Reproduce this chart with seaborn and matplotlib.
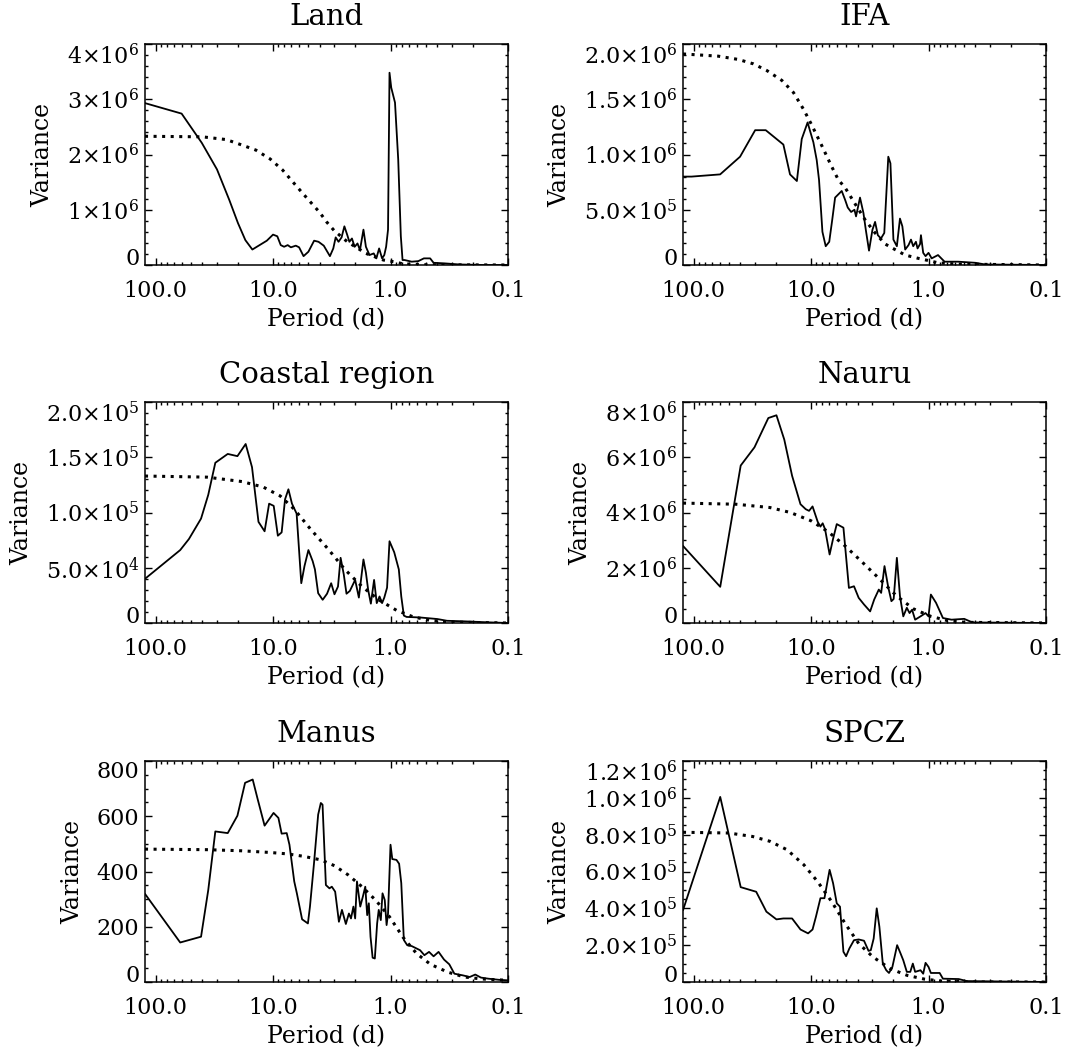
import matplotlib
matplotlib.use("Agg")
import matplotlib.pyplot as plt
import numpy as np
import seaborn as sns
from matplotlib.ticker import LogLocator, NullFormatter, MultipleLocator

sns.set_style("ticks")
plt.rcParams["font.family"] = ["DejaVu Serif"]
plt.rcParams["mathtext.fontset"] = "dejavuserif"
plt.rcParams["text.color"] = "black"
plt.rcParams["axes.labelcolor"] = "black"

# ---- Land ----
land_period = [123, 60, 40.4, 30, 23.6, 19.9, 17.2, 15.0, 11.3, 10.0, 9.2, 8.6, 8.05, 7.5, 7.05,
               6.4, 6.0, 5.5, 5.0, 4.47, 4.1, 3.7, 3.28, 3.07, 2.93, 2.77, 2.61, 2.47, 2.34, 2.24,
               2.13, 2.02, 1.91, 1.82, 1.70, 1.62, 1.51, 1.39, 1.32, 1.25, 1.18, 1.13, 1.09, 1.05,
               1.02, 0.986, 0.916, 0.86, 0.817, 0.79, 0.76, 0.66, 0.58, 0.52, 0.46, 0.43, 0.35,
               0.26, 0.165, 0.1]
land_var = np.array([2.93, 2.74, 2.21, 1.73, 1.18, 0.76, 0.45, 0.28, 0.44, 0.55, 0.52, 0.36, 0.33,
                     0.36, 0.32, 0.35, 0.32, 0.16, 0.24, 0.44, 0.42, 0.35, 0.16, 0.30, 0.50, 0.42,
                     0.50, 0.70, 0.55, 0.42, 0.48, 0.33, 0.39, 0.27, 0.64, 0.33, 0.18, 0.21, 0.12,
                     0.30, 0.12, 0.18, 0.33, 0.64, 3.48, 3.21, 2.94, 1.91, 0.52, 0.09, 0.09, 0.06,
                     0.07, 0.12, 0.12, 0.04, 0.03, 0.01, 0.0, 0.0]) * 1e6
land_fit_period = [123, 40, 25, 18.9, 14, 10.6, 8.3, 6.7, 5.5, 4.58, 4.0, 3.5, 3.01, 2.33, 1.62,
                   1.15, 0.94, 0.78, 0.5, 0.1]
land_fit = np.array([2.33, 2.32, 2.27, 2.18, 2.08, 1.92, 1.72, 1.49, 1.28, 1.09, 0.95, 0.78, 0.62,
                     0.42, 0.21, 0.09, 0.06, 0.02, 0.005, 0.0]) * 1e6

# ---- IFA ----
ifa_period = [123, 104, 59.4, 40.2, 29.9, 24.3, 17.2, 15.1, 13.2, 12.0, 10.7, 9.55, 8.95, 8.55,
              8.0, 7.5, 7.0, 6.6, 6.24, 5.85, 5.48, 5.13, 4.87, 4.56, 4.27, 4.14, 3.83, 3.58,
              3.42, 3.21, 3.0, 2.85, 2.70, 2.54, 2.38, 2.20, 2.11, 1.99, 1.86, 1.75, 1.67, 1.58,
              1.48, 1.41, 1.35, 1.28, 1.24, 1.18, 1.16, 1.11, 1.06, 1.0, 0.94, 0.83, 0.73, 0.56,
              0.40, 0.33, 0.1]
ifa_var = np.array([0.80, 0.80, 0.82, 0.98, 1.22, 1.22, 1.09, 0.82, 0.76, 1.14, 1.29, 1.11, 0.95,
                    0.77, 0.30, 0.17, 0.21, 0.41, 0.61, 0.64, 0.67, 0.59, 0.52, 0.48, 0.50, 0.44,
                    0.61, 0.47, 0.32, 0.13, 0.32, 0.39, 0.27, 0.24, 0.29, 0.98, 0.92, 0.23, 0.17,
                    0.42, 0.35, 0.14, 0.18, 0.23, 0.17, 0.21, 0.15, 0.19, 0.27, 0.11, 0.08, 0.11,
                    0.06, 0.09, 0.03, 0.03, 0.02, 0.005, 0.0]) * 1e6
ifa_fit_period = [123, 61.7, 41.5, 30.9, 23.8, 17.7, 14.1, 11.6, 9.9, 8.1, 6.67, 5.85, 5.13, 4.2,
                  3.47, 2.85, 2.34, 1.93, 1.58, 1.22, 1.0, 0.83, 0.56, 0.1]
ifa_fit = np.array([1.91, 1.89, 1.86, 1.82, 1.76, 1.67, 1.56, 1.41, 1.27, 1.08, 0.89, 0.77, 0.70,
                    0.55, 0.41, 0.29, 0.19, 0.14, 0.09, 0.06, 0.04, 0.02, 0.008, 0.0]) * 1e6

# ---- Coastal region ----
coast_period = [123, 61.7, 52, 41, 35.6, 31, 24.3, 20.1, 17.1, 15.1, 13.3, 11.8, 10.8, 9.87,
                9.1, 8.45, 7.9, 7.4, 6.9, 6.3, 5.75, 5.4, 5.0, 4.6, 4.4, 4.13, 3.78, 3.47, 3.2,
                3.0, 2.8, 2.66, 2.5, 2.37, 2.22, 2.0, 1.86, 1.70, 1.62, 1.55, 1.47, 1.38, 1.31,
                1.24, 1.18, 1.13, 1.07, 1.02, 0.93, 0.85, 0.81, 0.77, 0.73, 0.56, 0.40, 0.33,
                0.235, 0.147, 0.1]
coast_var = np.array([4.0, 6.6, 7.6, 9.45, 11.6, 14.5, 15.3, 15.1, 16.2, 14.1, 9.15, 8.3, 10.8,
                      10.6, 7.9, 8.2, 11.2, 12.1, 10.8, 9.9, 3.6, 5.15, 6.6, 5.6, 4.85, 2.7, 2.1,
                      2.65, 3.6, 2.6, 3.3, 5.9, 4.4, 2.65, 2.9, 3.9, 2.3, 5.75, 4.55, 3.0, 1.75,
                      3.9, 1.8, 2.4, 1.8, 2.3, 3.2, 7.4, 6.4, 4.85, 2.4, 0.67, 0.55, 0.5, 0.36,
                      0.2, 0.15, 0.06, 0.0]) * 1e4
coast_fit_period = [123, 36.5, 18.4, 12.1, 8.7, 6.6, 4.8, 3.4, 2.45, 1.75, 1.26, 0.89, 0.64, 0.46,
                    0.33, 0.1]
coast_fit = np.array([13.3, 13.2, 12.8, 12.3, 11.5, 10.3, 8.5, 6.7, 4.85, 3.3, 2.1, 1.15, 0.55,
                      0.24, 0.09, 0.0]) * 1e4

# ---- Nauru ----
nauru_period = [123, 59.3, 39.7, 30.3, 23.1, 19.7, 16.9, 14.5, 12.3, 11.1, 10.4, 9.71, 8.77, 8.32,
                7.96, 7.59, 6.95, 6.49, 6.04, 5.30, 4.76, 4.31, 3.93, 3.54, 3.14, 2.90, 2.65,
                2.53, 2.37, 2.21, 2.07, 1.98, 1.86, 1.75, 1.64, 1.53, 1.45, 1.38, 1.30, 1.17,
                1.06, 1.0, 0.955, 0.863, 0.754, 0.637, 0.497, 0.423, 0.1]
nauru_var = np.array([2.79, 1.31, 5.70, 6.36, 7.42, 7.52, 6.64, 5.33, 4.30, 4.12, 4.06, 4.22,
                      3.66, 3.49, 3.61, 3.39, 2.48, 3.05, 3.58, 3.45, 1.27, 1.33, 0.91, 0.67,
                      0.42, 0.85, 1.21, 1.09, 2.06, 1.33, 0.79, 0.87, 2.36, 0.97, 0.24, 0.55,
                      0.36, 0.48, 0.12, 0.24, 0.36, 0.24, 1.03, 0.73, 0.18, 0.12, 0.15, 0.02,
                      0.0]) * 1e6
nauru_fit_period = [123, 43.7, 22.4, 15.0, 10.0, 7.13, 5.13, 3.68, 2.62, 1.86, 1.34, 0.955, 0.686,
                    0.488, 0.1]
nauru_fit = np.array([4.34, 4.30, 4.18, 4.0, 3.70, 3.30, 2.79, 2.21, 1.60, 0.97, 0.51, 0.24,
                      0.085, 0.024, 0.0]) * 1e6

# ---- Manus ----
manus_period = [123, 61.7, 41, 35.6, 31, 24.3, 20.1, 17.3, 14.9, 13.5, 11.8, 10.6, 9.9, 9.0,
                8.45, 7.65, 7.25, 6.6, 6.27, 5.66, 5.05, 4.85, 4.48, 4.13, 3.92, 3.79, 3.55,
                3.31, 3.16, 2.96, 2.75, 2.59, 2.40, 2.26, 2.17, 2.07, 2.0, 1.93, 1.81, 1.72,
                1.64, 1.58, 1.53, 1.48, 1.42, 1.36, 1.30, 1.26, 1.21, 1.17, 1.12, 1.08, 1.05,
                1.0, 0.966, 0.89, 0.845, 0.81, 0.77, 0.72, 0.66, 0.56, 0.515, 0.47, 0.43, 0.39,
                0.35, 0.316, 0.286, 0.242, 0.212, 0.19, 0.17, 0.147, 0.12, 0.1]
manus_var = [319, 143, 164, 333, 545, 539, 602, 721, 733, 661, 566, 594, 612, 594, 537, 539, 497,
             364, 321, 227, 212, 273, 430, 606, 648, 642, 351, 339, 345, 327, 218, 261, 210, 248,
             230, 273, 230, 364, 273, 309, 345, 242, 285, 164, 88, 85, 212, 261, 224, 321, 297,
             206, 248, 497, 445, 442, 428, 358, 152, 133, 130, 115, 97, 109, 93, 109, 81, 64, 30,
             24, 18, 27, 16, 12, 8, 6]
manus_fit_period = [123, 36.5, 18.6, 10.7, 7.65, 5.5, 3.92, 3.0, 2.3, 1.75, 1.33, 1.02, 0.78, 0.6,
                    0.457, 0.327, 0.234, 0.168, 0.1]
manus_fit = [481, 479, 475, 469, 464, 455, 442, 421, 388, 345, 295, 236, 161, 103, 64, 36, 18,
             11, 6]

# ---- SPCZ ----
spcz_period = [123, 59.3, 39.7, 29.3, 24.0, 19.7, 17.2, 14.5, 12.3, 10.6, 9.71, 9.08, 8.32, 7.69,
               6.95, 6.49, 6.04, 5.67, 5.30, 5.03, 4.72, 4.31, 3.93, 3.54, 3.24, 3.10, 2.93, 2.76,
               2.62, 2.45, 2.29, 2.17, 2.03, 1.85, 1.73, 1.64, 1.53, 1.43, 1.36, 1.30, 1.17,
               1.11, 1.06, 1.0, 0.955, 0.804, 0.754, 0.554, 0.472, 0.1]
spcz_var = np.array([3.9, 10.05, 5.15, 4.9, 3.82, 3.40, 3.45, 3.45, 2.85, 2.64, 2.85, 3.55, 4.55,
                     4.55, 6.09, 5.36, 4.27, 4.09, 1.64, 1.40, 1.82, 2.27, 2.31, 2.24, 1.69, 1.73,
                     2.36, 4.0, 3.0, 1.0, 0.64, 0.49, 0.82, 2.0, 1.55, 1.18, 0.55, 0.55, 1.0,
                     0.55, 0.64, 0.45, 1.04, 0.82, 0.49, 0.49, 0.18, 0.16, 0.05, 0.0]) * 1e5
spcz_fit_period = [123, 50.1, 31.4, 22.4, 16.0, 11.5, 8.79, 6.67, 5.13, 3.93, 2.97, 2.13, 1.52,
                   1.09, 0.78, 0.40, 0.1]
spcz_fit = np.array([8.13, 8.09, 7.9, 7.64, 7.18, 6.36, 5.45, 4.36, 3.18, 2.09, 1.36, 0.73, 0.36,
                     0.16, 0.05, 0.0, 0.0]) * 1e5

# y axis ticks and labels for each panel
land_yticks = [0, 1e6, 2e6, 3e6, 4e6]
land_ylabels = ["0", r"$1{\times}10^{6}$", r"$2{\times}10^{6}$", r"$3{\times}10^{6}$",
                r"$4{\times}10^{6}$"]
ifa_yticks = [0, 5e5, 1e6, 1.5e6, 2e6]
ifa_ylabels = ["0", r"$5.0{\times}10^{5}$", r"$1.0{\times}10^{6}$", r"$1.5{\times}10^{6}$",
               r"$2.0{\times}10^{6}$"]
coast_yticks = [0, 5e4, 1e5, 1.5e5, 2e5]
coast_ylabels = ["0", r"$5.0{\times}10^{4}$", r"$1.0{\times}10^{5}$", r"$1.5{\times}10^{5}$",
                 r"$2.0{\times}10^{5}$"]
nauru_yticks = [0, 2e6, 4e6, 6e6, 8e6]
nauru_ylabels = ["0", r"$2{\times}10^{6}$", r"$4{\times}10^{6}$", r"$6{\times}10^{6}$",
                 r"$8{\times}10^{6}$"]
manus_yticks = [0, 200, 400, 600, 800]
manus_ylabels = ["0", "200", "400", "600", "800"]
spcz_yticks = [0, 2e5, 4e5, 6e5, 8e5, 1e6, 1.2e6]
spcz_ylabels = ["0", r"$2.0{\times}10^{5}$", r"$4.0{\times}10^{5}$", r"$6.0{\times}10^{5}$",
                r"$8.0{\times}10^{5}$", r"$1.0{\times}10^{6}$", r"$1.2{\times}10^{6}$"]

xticks = [100, 10, 1, 0.1]
xlabels = ["100.0", "10.0", "1.0", "0.1"]

panels = [
    ("Land", land_period, land_var, land_fit_period, land_fit, land_yticks, land_ylabels, 2e5),
    ("IFA", ifa_period, ifa_var, ifa_fit_period, ifa_fit, ifa_yticks, ifa_ylabels, 1e5),
    ("Coastal region", coast_period, coast_var, coast_fit_period, coast_fit, coast_yticks,
     coast_ylabels, 1e4),
    ("Nauru", nauru_period, nauru_var, nauru_fit_period, nauru_fit, nauru_yticks,
     nauru_ylabels, 5e5),
    ("Manus", manus_period, manus_var, manus_fit_period, manus_fit, manus_yticks,
     manus_ylabels, 50),
    ("SPCZ", spcz_period, spcz_var, spcz_fit_period, spcz_fit, spcz_yticks, spcz_ylabels, 5e4),
]

fig = plt.figure(figsize=(10.65, 10.51), dpi=100)

col_left = [145 / 1065, 683 / 1065]
row_bottom = [(1051 - 265) / 1051, (1051 - 623) / 1051, (1051 - 982) / 1051]
ax_w = 363 / 1065
ax_h = 221 / 1051

for i, (title, per, var, fper, fit, yticks, ylabels, minor) in enumerate(panels):
    ax = fig.add_axes([col_left[i % 2], row_bottom[i // 2], ax_w, ax_h])

    # red-noise background (dotted) and observed spectrum (solid)
    sns.lineplot(x=fper, y=fit, ax=ax, color="black", lw=2.2, estimator=None, sort=False,
                 linestyle=(0, (1, 1.8)))
    sns.lineplot(x=per, y=var, ax=ax, color="black", lw=1.3, estimator=None, sort=False)

    ax.set_xscale("log")
    ax.set_xlim(123, 0.1)
    ax.set_xticks(xticks, xlabels)
    ax.xaxis.set_minor_locator(LogLocator(base=10, subs=np.arange(2, 10)))
    ax.xaxis.set_minor_formatter(NullFormatter())

    ax.set_ylim(0, yticks[-1])
    ax.set_yticks(yticks, ylabels)
    ax.yaxis.set_minor_locator(MultipleLocator(minor))
    tl = ax.get_yticklabels()
    tl[0].set_va("baseline")
    tl[-1].set_va("top")

    ax.tick_params(which="both", direction="in", top=True, right=True, width=1.0,
                   labelsize=16, colors="black")
    ax.tick_params(which="major", length=5)
    ax.tick_params(which="minor", length=2.5)
    ax.tick_params(axis="x", pad=11)
    ax.tick_params(axis="y", pad=4)
    for s in ax.spines.values():
        s.set_linewidth(1.1)
        s.set_color("black")

    ax.set_title(title, fontsize=21, pad=14, color="black")
    ax.set_xlabel("Period (d)", fontsize=17, labelpad=4)
    ax.set_ylabel("Variance", fontsize=17, labelpad=9)

fig.savefig("out.png", dpi=100, facecolor="white")
